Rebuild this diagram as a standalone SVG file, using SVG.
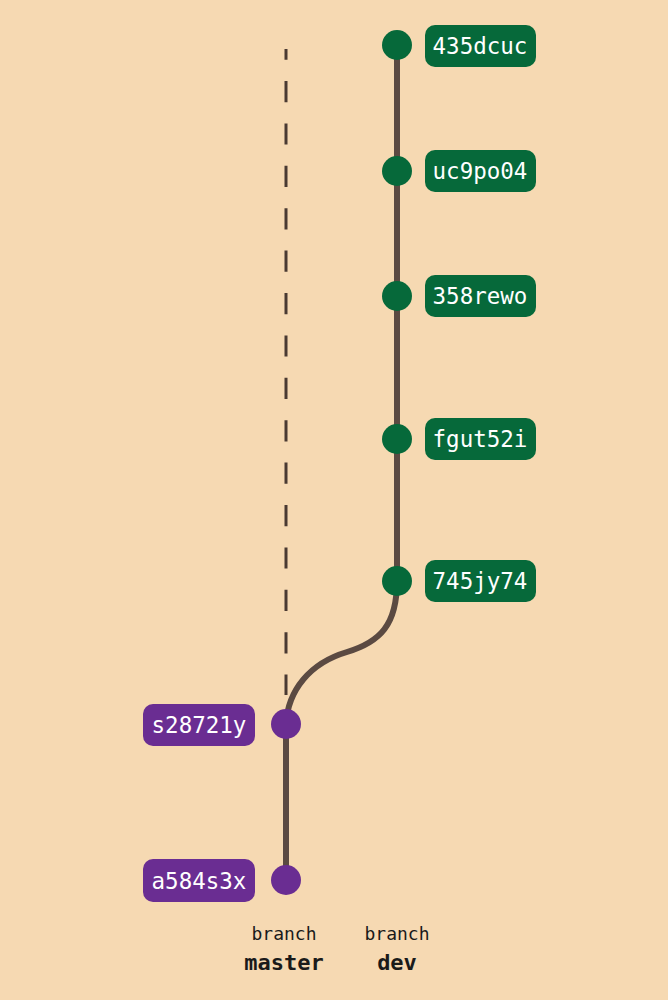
<svg xmlns="http://www.w3.org/2000/svg" width="668" height="1000" viewBox="0 0 668 1000">
<style>
.edge{fill:none;stroke:#5b4a42;stroke-width:6}
.dash{fill:none;stroke:#4a3a32;stroke-width:3;stroke-dasharray:21.2 21.2;stroke-dashoffset:10.4}
.gdot{fill:#06693a}
.pdot{fill:#6a2d92}
.glab{fill:#06693a}
.plab{fill:#6a2d92}
.lt{font-family:"DejaVu Sans Mono","Liberation Mono",monospace;font-size:22.5px;fill:#ffffff;text-anchor:middle}
.bt{font-family:"DejaVu Sans Mono","Liberation Mono",monospace;fill:#1a1a1a;text-anchor:middle}
</style>
<rect width="668" height="1000" fill="#f6d9b2"/>
<g id="connectors">
<line class="dash" x1="286" y1="49" x2="286" y2="695"/>
<path class="edge" d="M397,45 L397,581 C397,625 380,642 347,652 C310,663 288,690 286,724 L286,880"/>
</g>
<g id="c435dcuc"><circle class="gdot" cx="397" cy="45" r="15"/><rect class="glab" x="425" y="25" width="111" height="42" rx="10"/><text class="lt" x="480" y="54">435dcuc</text></g>
<g id="uc9po04"><circle class="gdot" cx="397" cy="171" r="15"/><rect class="glab" x="425" y="150" width="111" height="42" rx="10"/><text class="lt" x="480" y="179">uc9po04</text></g>
<g id="c358rewo"><circle class="gdot" cx="397" cy="296" r="15"/><rect class="glab" x="425" y="275" width="111" height="42" rx="10"/><text class="lt" x="480" y="304">358rewo</text></g>
<g id="fgut52i"><circle class="gdot" cx="397" cy="439" r="15"/><rect class="glab" x="425" y="418" width="111" height="42" rx="10"/><text class="lt" x="480" y="447">fgut52i</text></g>
<g id="c745jy74"><circle class="gdot" cx="397" cy="581" r="15"/><rect class="glab" x="425" y="560" width="111" height="42" rx="10"/><text class="lt" x="480" y="589">745jy74</text></g>
<g id="s28721y"><circle class="pdot" cx="286" cy="724" r="15"/><rect class="plab" x="143" y="704" width="112" height="42" rx="10"/><text class="lt" x="199" y="733">s28721y</text></g>
<g id="a584s3x"><circle class="pdot" cx="286" cy="880" r="15"/><rect class="plab" x="143" y="859" width="112" height="43" rx="10"/><text class="lt" x="199" y="889">a584s3x</text></g>
<g id="branch-master"><text class="bt" x="284" y="940" font-size="18">branch</text><text class="bt" x="284" y="970" font-size="22" font-weight="bold">master</text></g>
<g id="branch-dev"><text class="bt" x="397" y="940" font-size="18">branch</text><text class="bt" x="397" y="970" font-size="22" font-weight="bold">dev</text></g>
</svg>
